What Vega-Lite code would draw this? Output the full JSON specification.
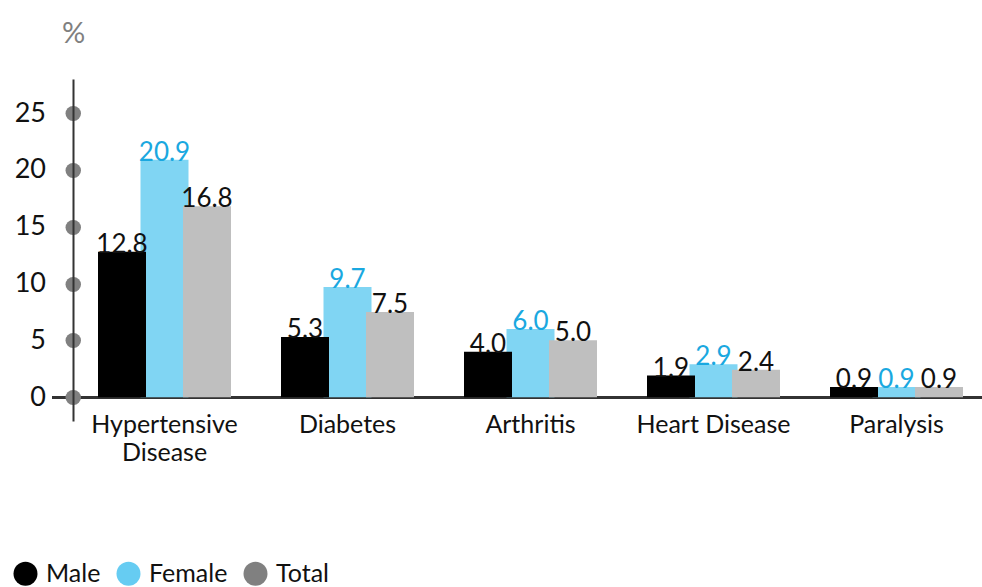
{
  "$schema": "https://vega.github.io/schema/vega-lite/v6.json",
  "autosize": "none",
  "width": 930,
  "height": 342,
  "padding": {"left": 52, "top": 79, "right": 0, "bottom": 166},
  "config": {"view": {"stroke": null}, "font": "Lato"},
  "data": {
    "values": [
      {"category": "Hypertensive Disease", "sex": "Female", "value": 20.9},
      {"category": "Diabetes", "sex": "Female", "value": 9.7},
      {"category": "Arthritis", "sex": "Female", "value": 6.0},
      {"category": "Heart Disease", "sex": "Female", "value": 2.9},
      {"category": "Paralysis", "sex": "Female", "value": 0.9},
      {"category": "Hypertensive Disease", "sex": "Male", "value": 12.8},
      {"category": "Diabetes", "sex": "Male", "value": 5.3},
      {"category": "Arthritis", "sex": "Male", "value": 4.0},
      {"category": "Heart Disease", "sex": "Male", "value": 1.9},
      {"category": "Paralysis", "sex": "Male", "value": 0.9},
      {"category": "Hypertensive Disease", "sex": "Total", "value": 16.8},
      {"category": "Diabetes", "sex": "Total", "value": 7.5},
      {"category": "Arthritis", "sex": "Total", "value": 5.0},
      {"category": "Heart Disease", "sex": "Total", "value": 2.4},
      {"category": "Paralysis", "sex": "Total", "value": 0.9}
    ]
  },
  "resolve": {"scale": {"color": "independent"}, "legend": {"color": "independent"}},
  "layer": [
    {
      "mark": {"type": "rule", "color": "#333333", "strokeWidth": 2},
      "encoding": {"y": {"datum": 0, "type": "quantitative"}}
    },
    {
      "mark": {"type": "bar", "width": 48, "strokeWidth": 0},
      "encoding": {
        "x": {
          "field": "category",
          "type": "nominal",
          "sort": ["Hypertensive Disease", "Diabetes", "Arthritis", "Heart Disease", "Paralysis"],
          "scale": {"paddingInner": 0, "paddingOuter": 0, "range": [21, 936]},
          "axis": {
            "title": null,
            "offset": -24,
            "domain": false,
            "ticks": false,
            "labelAngle": 0,
            "labelFontSize": 25,
            "labelColor": "#111111",
            "labelPadding": 15,
            "labelBaseline": "top",
            "labelLineHeight": 28,
            "labelExpr": "datum.value == 'Hypertensive Disease' ? ['Hypertensive', 'Disease'] : datum.value"
          }
        },
        "xOffset": {
          "field": "sex",
          "type": "nominal",
          "sort": ["Male", "Female", "Total"],
          "scale": {"paddingInner": 0, "paddingOuter": 0.653}
        },
        "y": {
          "field": "value",
          "type": "quantitative",
          "stack": null,
          "scale": {"domain": [-2.1, 28], "nice": false, "zero": false},
          "axis": {
            "values": [0, 5, 10, 15, 20, 25],
            "offset": -21,
            "zindex": 1,
            "grid": false,
            "domainColor": "#333333",
            "domainWidth": 2,
            "tickColor": "#808080",
            "tickWidth": 15,
            "tickCap": "round",
            "tickSize": 0.5,
            "labelFontSize": 27,
            "labelColor": "#111111",
            "labelPadding": 27,
            "title": "%",
            "titleAngle": 0,
            "titleX": 0,
            "titleY": -37,
            "titleAlign": "center",
            "titleBaseline": "alphabetic",
            "titleFontSize": 29,
            "titleFontWeight": "normal",
            "titleColor": "#808080"
          }
        },
        "color": {
          "field": "sex",
          "type": "nominal",
          "scale": {"domain": ["Male", "Female", "Total"], "range": ["#000000", "#80d5f3", "#bfbfbf"]},
          "legend": null
        }
      }
    },
    {
      "mark": {"type": "text", "baseline": "alphabetic", "dy": 1, "fontSize": 26},
      "encoding": {
        "x": {"field": "category", "type": "nominal", "sort": ["Hypertensive Disease", "Diabetes", "Arthritis", "Heart Disease", "Paralysis"]},
        "xOffset": {"field": "sex", "type": "nominal", "sort": ["Male", "Female", "Total"]},
        "y": {"field": "value", "type": "quantitative", "stack": null},
        "text": {"field": "value", "type": "quantitative", "format": ".1f"},
        "color": {
          "condition": {"test": "datum.sex === 'Female'", "value": "#1aa8e0"},
          "value": "#111111"
        }
      }
    },
    {
      "mark": {"type": "point", "filled": true, "opacity": 0},
      "encoding": {
        "x": {"field": "category", "type": "nominal", "sort": ["Hypertensive Disease", "Diabetes", "Arthritis", "Heart Disease", "Paralysis"]},
        "xOffset": {"field": "sex", "type": "nominal", "sort": ["Male", "Female", "Total"]},
        "y": {"field": "value", "type": "quantitative", "stack": null},
        "color": {
          "field": "sex",
          "type": "nominal",
          "scale": {"domain": ["Male", "Female", "Total"], "range": ["#000000", "#66ccf2", "#808080"]},
          "legend": {
            "orient": "none",
            "legendX": -39,
            "legendY": 482,
            "direction": "horizontal",
            "title": null,
            "symbolType": "circle",
            "symbolSize": 576,
            "symbolStrokeWidth": 0,
            "symbolOpacity": 1,
            "labelFontSize": 25,
            "labelColor": "#111111",
            "labelOffset": 8,
            "columnPadding": 15,
            "padding": 0
          }
        }
      }
    }
  ]
}
